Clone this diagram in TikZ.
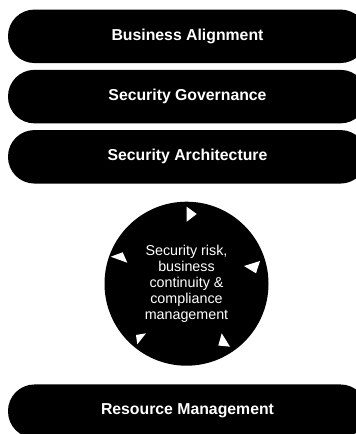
\documentclass[tikz,border=0pt]{standalone}
\usepackage{fontspec}
\setmainfont{Liberation Sans}
\begin{document}
\begin{tikzpicture}[x=1pt,y=-1pt,
  pill/.style={rectangle, fill=black, text=white, rounded corners=26.5pt,
    minimum width=359pt, minimum height=53.5pt, inner sep=0pt,
    font=\fontsize{15.8pt}{18pt}\selectfont\bfseries},
  hub/.style={circle, fill=black, text=white, minimum size=164pt, inner sep=0pt,
    align=center, font=\fontsize{14.3pt}{16pt}\selectfont},
  tri/.style={fill=white}]
\useasboundingbox (0,0) rectangle (356,434);
\clip (0,0) rectangle (356,434);
\node[pill] (ba) at (187.5,36.3) {Business Alignment};
\node[pill] (sg) at (187.5,96.6) {Security Governance};
\node[pill] (sa) at (187.5,156.8) {Security Architecture};
\node[pill] (rm) at (187.5,411.2) {Resource Management};
\node[hub] (hub) at (186.5,283.7) {Security risk,\\business\\continuity \&\\compliance\\management};
\fill[tri] (186.7,206.7) -- (186.7,221.7) -- (196.7,214) -- cycle;
\fill[tri] (110.7,256.7) -- (122.7,252.3) -- (127.3,262.7) -- cycle;
\fill[tri] (244,266) -- (260,261) -- (256,273.3) -- cycle;
\fill[tri] (136,335) -- (146,333.3) -- (137.3,344.3) -- cycle;
\fill[tri] (221.7,333.3) -- (218.3,345.5) -- (230,346.7) -- cycle;
\end{tikzpicture}
\end{document}
